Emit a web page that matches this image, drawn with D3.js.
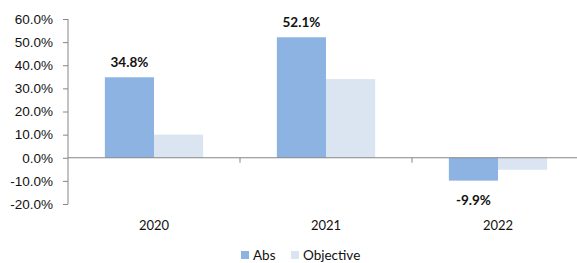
<!DOCTYPE html>
<html>
<head>
<meta charset="utf-8">
<script src="https://cdn.jsdelivr.net/npm/d3@7"></script>
<style>
  body { margin: 0; background: #fff; }
  svg { display: block; font-family: Lato, "Open Sans", sans-serif; }
</style>
</head>
<body>
<svg id="chart" width="577" height="263"></svg>
<script>
const years = ['2020', '2021', '2022'];
const absValues = [34.8, 52.1, -9.9];
const objValues = [10.0, 34.0, -5.2];
const seriesNames = ['Abs', 'Objective'];
const yTicks = [60, 50, 40, 30, 20, 10, 0, -10, -20];

const colors = ['#8DB3E2', '#DBE5F1'];
const svg = d3.select('#chart');

let y = d3.scaleLinear().domain([-20, 60]).range([204, 19]);
let x = d3.scaleBand().domain(years).range([68, 584]).paddingInner(0).paddingOuter(0);
// excel style gap width 150% -> 0.75 bar on each side
let inner = d3.scaleBand().domain(seriesNames)
    .range([0, x.bandwidth()]).paddingInner(0).paddingOuter(0.75);

// y axis
let yAxis = d3.axisLeft(y).tickValues(yTicks).tickSize(5).tickFormat(d => d.toFixed(1) + '%');
let gy = svg.append('g').attr('transform', 'translate(68,0)').call(yAxis);
gy.select('.domain').attr('stroke', '#868686').attr('d', 'M0,19V204');
gy.selectAll('.tick line').attr('stroke', '#868686');
gy.selectAll('.tick text').attr('x', -15).attr('fill', '#111').style('font-size', '13.5px');

// bars
let rows = years.map((yr, i) => ({ year: yr, vals: [absValues[i], objValues[i]] }));
svg.append('g').selectAll('g')
    .data(rows)
    .enter()
    .append('g')
    .attr('transform', d => `translate(${x(d.year)},0)`)
    .selectAll('rect')
    .data(d => d.vals.map((v, j) => ({ key: seriesNames[j], v: v, j: j })))
    .enter()
    .append('rect')
    .attr('x', d => inner(d.key))
    .attr('width', inner.bandwidth())
    .attr('y', d => y(Math.max(0, d.v)))
    .attr('height', d => Math.abs(y(d.v) - y(0)))
    .attr('fill', d => colors[d.j]);

// x axis at zero
let xAxis = d3.axisBottom(x).tickSize(0).tickFormat('');
let gx = svg.append('g').attr('transform', `translate(0,${y(0)})`).call(xAxis);
gx.select('.domain').attr('stroke', '#868686').attr('d', 'M68,0H577');
svg.append('g').selectAll('line')
    .data(years.slice(1))
    .enter()
    .append('line')
    .attr('x1', d => x(d)).attr('x2', d => x(d))
    .attr('y1', y(0)).attr('y2', y(0) + 5)
    .attr('stroke', '#868686');

// category labels
svg.append('g').selectAll('text')
    .data(years)
    .enter()
    .append('text')
    .attr('x', d => x(d) + x.bandwidth() / 2)
    .attr('y', 230)
    .attr('text-anchor', 'middle')
    .attr('fill', '#111')
    .style('font-size', '13px')
    .text(d => d);

// value labels on Abs
svg.append('g').selectAll('text')
    .data(rows)
    .enter()
    .append('text')
    .attr('x', d => x(d.year) + inner('Abs') + inner.bandwidth() / 2)
    .attr('y', d => d.vals[0] >= 0 ? y(d.vals[0]) - 10 : y(d.vals[0]) + 24)
    .attr('text-anchor', 'middle')
    .attr('fill', '#111')
    .style('font-size', '13.5px')
    .style('font-weight', 'bold')
    .text(d => d.vals[0].toFixed(1) + '%');

// legend
let legendX = [241, 291];
let lg = svg.append('g').selectAll('g')
    .data(seriesNames)
    .enter()
    .append('g')
    .attr('transform', (d, i) => `translate(${legendX[i]},251)`);
lg.append('rect').attr('width', 8).attr('height', 8).attr('fill', (d, i) => colors[i]);
lg.append('text').attr('x', 12).attr('y', 9).attr('fill', '#111')
    .style('font-size', '13.5px').text(d => d);
</script>
</body>
</html>
